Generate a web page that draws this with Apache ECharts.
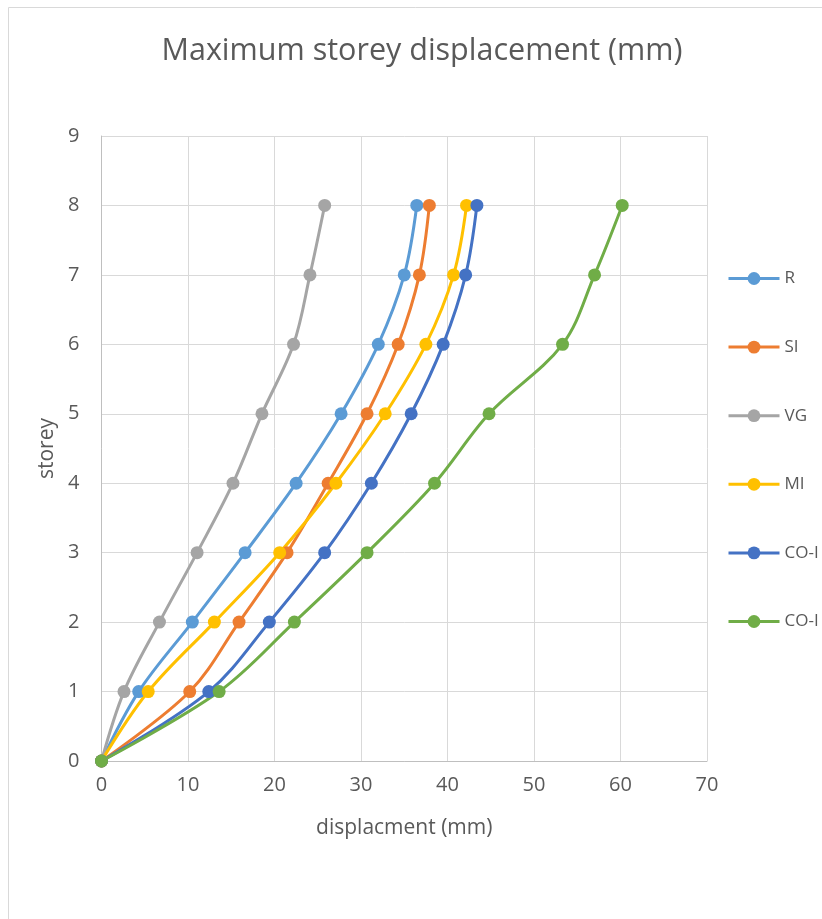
<!DOCTYPE html>
<html>
<head>
<meta charset="utf-8">
<script src="https://cdn.jsdelivr.net/npm/echarts@6/dist/echarts.min.js"></script>
<style>
html,body{margin:0;padding:0;background:#fff;}
#chart{width:822px;height:919px;}
</style>
</head>
<body>
<div id="chart"></div>
<script>
const storeys = [0, 1, 2, 3, 4, 5, 6, 7, 8];
const seriesNames = ['R', 'SI', 'VG', 'MI', 'CO-I', 'CO-I '];
const R    = [0, 4.3, 10.5, 16.6, 22.5, 27.7, 32.0, 35.0, 36.45];
const SI   = [0, 10.2, 15.9, 21.45, 26.2, 30.7, 34.3, 36.75, 37.9];
const VG   = [0, 2.6, 6.7, 11.05, 15.2, 18.55, 22.2, 24.1, 25.8];
const MI   = [0, 5.4, 13.05, 20.6, 27.1, 32.8, 37.5, 40.7, 42.2];
const COI1 = [0, 12.4, 19.4, 25.8, 31.2, 35.8, 39.5, 42.1, 43.4];
const COI2 = [0, 13.6, 22.3, 30.7, 38.5, 44.8, 53.3, 57.0, 60.2];
const xTicks = [0, 10, 20, 30, 40, 50, 60, 70];
const yTicks = [0, 1, 2, 3, 4, 5, 6, 7, 8, 9];

const colors = ['#5B9BD5', '#ED7D31', '#A5A5A5', '#FFC000', '#4472C4', '#70AD47'];
const allData = [R, SI, VG, MI, COI1, COI2];
const FONT = 'Open Sans';

const chart = echarts.init(document.getElementById('chart'));
chart.setOption({
  animation: false,
  color: colors,
  textStyle: { fontFamily: FONT },
  title: {
    text: 'Maximum storey displacement (mm)',
    left: 417,
    textAlign: 'center',
    top: 31,
    textStyle: { fontFamily: FONT, fontSize: 30.5, fontWeight: 'normal', color: '#595959' }
  },
  graphic: [{
    type: 'rect',
    shape: { x: 8.5, y: 7.5, width: 900, height: 1000 },
    style: { fill: 'none', stroke: '#d9d9d9', lineWidth: 1 },
    silent: true
  }],
  legend: {
    orient: 'vertical',
    left: 722,
    top: 265,
    itemWidth: 51,
    itemHeight: 16,
    itemGap: 51.6,
    data: seriesNames,
    formatter: n => n.trim(),
    lineStyle: { width: 3 },
    textStyle: { fontFamily: FONT, fontSize: 17, color: '#595959' }
  },
  grid: { left: 101.5, right: 115, top: 136, bottom: 158, containLabel: false },
  xAxis: {
    type: 'value',
    min: xTicks[0],
    max: xTicks[xTicks.length - 1],
    interval: 10,
    name: 'displacment (mm)',
    nameLocation: 'middle',
    nameGap: 57,
    nameTextStyle: { fontFamily: FONT, fontSize: 21, color: '#595959' },
    axisLine: { show: true, lineStyle: { color: '#bfbfbf', width: 1 } },
    axisTick: { show: false },
    axisLabel: { fontFamily: FONT, fontSize: 20, color: '#595959', margin: 14 },
    splitLine: { show: true, lineStyle: { color: '#d9d9d9', width: 1 } }
  },
  yAxis: {
    type: 'value',
    min: yTicks[0],
    max: yTicks[yTicks.length - 1],
    interval: 1,
    name: 'storey',
    nameLocation: 'middle',
    nameGap: 44,
    nameRotate: 90,
    nameTextStyle: { fontFamily: FONT, fontSize: 21, color: '#595959' },
    axisLine: { show: true, lineStyle: { color: '#bfbfbf', width: 1 } },
    axisTick: { show: false },
    axisLabel: { fontFamily: FONT, fontSize: 20, color: '#595959', margin: 22 },
    splitLine: { show: true, lineStyle: { color: '#d9d9d9', width: 1 } }
  },
  series: seriesNames.map((name, i) => ({
    name: name,
    type: 'line',
    smooth: 0.35,
    symbol: 'circle',
    symbolSize: 13,
    lineStyle: { width: 3, color: colors[i] },
    itemStyle: { color: colors[i] },
    data: allData[i].map((x, k) => [x, storeys[k]])
  }))
});
</script>
</body>
</html>
